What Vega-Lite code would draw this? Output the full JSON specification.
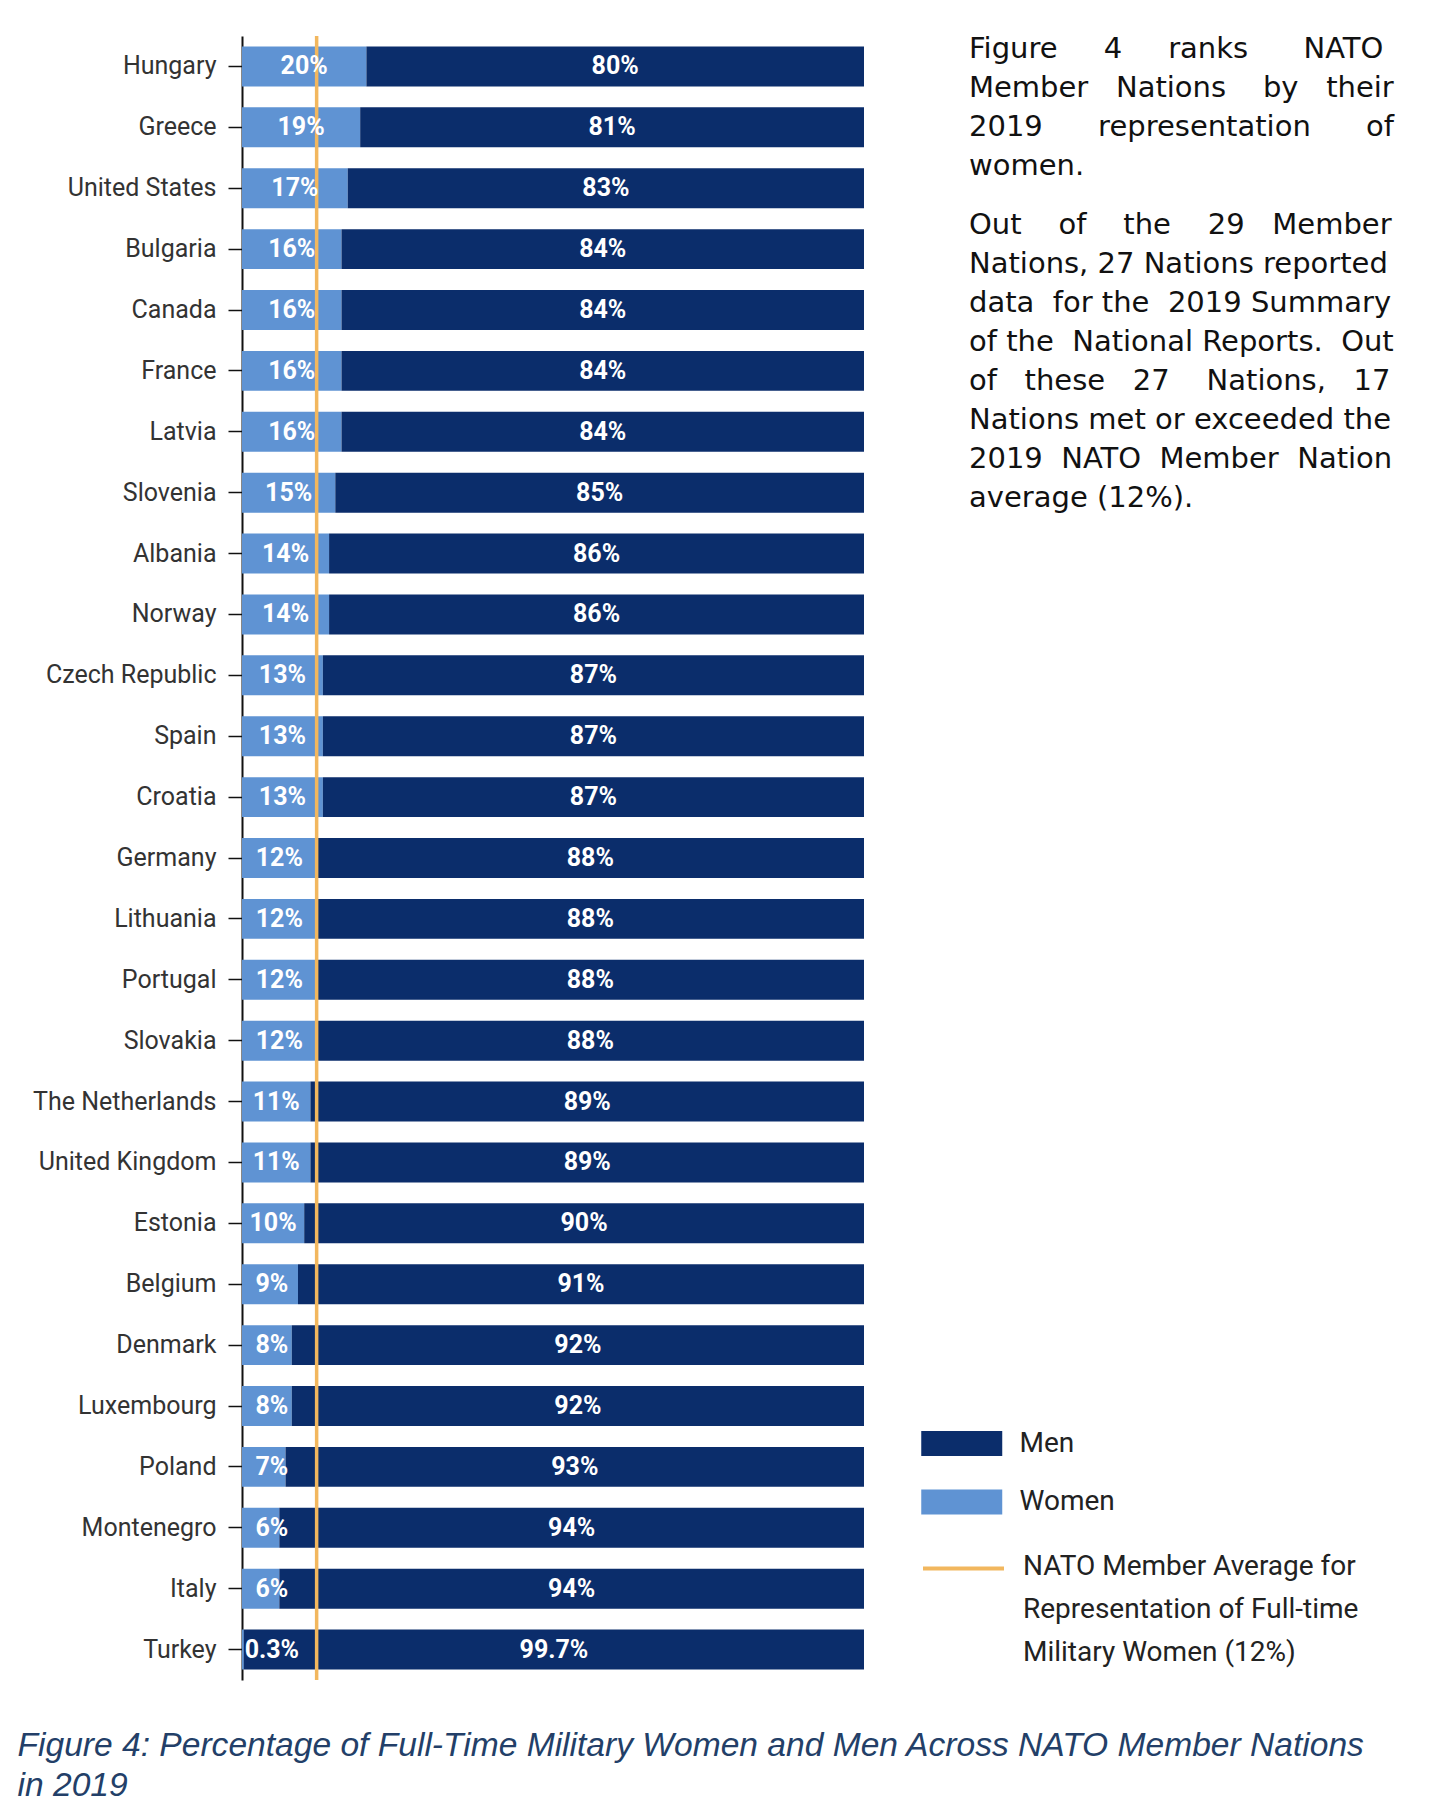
{
  "$schema": "https://vega.github.io/schema/vega-lite/v6.json",
  "width": 622,
  "height": 1644,
  "autosize": {"type": "none"},
  "padding": {"left": 242, "top": 36, "right": 571, "bottom": 132},
  "background": "white",
  "config": {"view": {"stroke": null}, "font": "Roboto"},
  "title": {
    "text": [
      "Figure\u00a0\u00a0\u00a0\u00a0\u00a04\u00a0\u00a0\u00a0\u00a0\u00a0ranks\u00a0\u00a0\u00a0\u00a0\u00a0\u00a0NATO",
      "Member\u00a0\u00a0\u00a0Nations\u00a0\u00a0\u00a0\u00a0by\u00a0\u00a0\u00a0their",
      "2019\u00a0\u00a0\u00a0\u00a0\u00a0\u00a0representation\u00a0\u00a0\u00a0\u00a0\u00a0\u00a0of",
      "women."
    ],
    "subtitle": [
      "Out\u00a0\u00a0\u00a0\u00a0of\u00a0\u00a0\u00a0\u00a0the\u00a0\u00a0\u00a0\u00a029\u00a0\u00a0\u00a0Member",
      "Nations, 27 Nations reported",
      "data\u00a0\u00a0for\u00a0the\u00a0\u00a02019\u00a0Summary",
      "of\u00a0the\u00a0\u00a0National\u00a0Reports.\u00a0\u00a0Out",
      "of\u00a0\u00a0\u00a0these\u00a0\u00a0\u00a027\u00a0\u00a0\u00a0\u00a0Nations,\u00a0\u00a0\u00a017",
      "Nations met or exceeded the",
      "2019\u00a0\u00a0NATO\u00a0\u00a0Member\u00a0\u00a0Nation",
      "average (12%)."
    ],
    "anchor": "start",
    "frame": "group",
    "orient": "top",
    "offset": 0,
    "dx": 727,
    "dy": 479,
    "font": "DejaVu Sans",
    "fontSize": 29,
    "fontWeight": "normal",
    "color": "#111111",
    "lineHeight": 39,
    "subtitleFont": "DejaVu Sans",
    "subtitleFontSize": 29,
    "subtitleColor": "#111111",
    "subtitleLineHeight": 39,
    "subtitlePadding": 30
  },
  "data": {"values": [
    {"country": "Hungary", "gender": "Women", "pct": 20}, {"country": "Hungary", "gender": "Men", "pct": 80},
    {"country": "Greece", "gender": "Women", "pct": 19}, {"country": "Greece", "gender": "Men", "pct": 81},
    {"country": "United States", "gender": "Women", "pct": 17}, {"country": "United States", "gender": "Men", "pct": 83},
    {"country": "Bulgaria", "gender": "Women", "pct": 16}, {"country": "Bulgaria", "gender": "Men", "pct": 84},
    {"country": "Canada", "gender": "Women", "pct": 16}, {"country": "Canada", "gender": "Men", "pct": 84},
    {"country": "France", "gender": "Women", "pct": 16}, {"country": "France", "gender": "Men", "pct": 84},
    {"country": "Latvia", "gender": "Women", "pct": 16}, {"country": "Latvia", "gender": "Men", "pct": 84},
    {"country": "Slovenia", "gender": "Women", "pct": 15}, {"country": "Slovenia", "gender": "Men", "pct": 85},
    {"country": "Albania", "gender": "Women", "pct": 14}, {"country": "Albania", "gender": "Men", "pct": 86},
    {"country": "Norway", "gender": "Women", "pct": 14}, {"country": "Norway", "gender": "Men", "pct": 86},
    {"country": "Czech Republic", "gender": "Women", "pct": 13}, {"country": "Czech Republic", "gender": "Men", "pct": 87},
    {"country": "Spain", "gender": "Women", "pct": 13}, {"country": "Spain", "gender": "Men", "pct": 87},
    {"country": "Croatia", "gender": "Women", "pct": 13}, {"country": "Croatia", "gender": "Men", "pct": 87},
    {"country": "Germany", "gender": "Women", "pct": 12}, {"country": "Germany", "gender": "Men", "pct": 88},
    {"country": "Lithuania", "gender": "Women", "pct": 12}, {"country": "Lithuania", "gender": "Men", "pct": 88},
    {"country": "Portugal", "gender": "Women", "pct": 12}, {"country": "Portugal", "gender": "Men", "pct": 88},
    {"country": "Slovakia", "gender": "Women", "pct": 12}, {"country": "Slovakia", "gender": "Men", "pct": 88},
    {"country": "The Netherlands", "gender": "Women", "pct": 11}, {"country": "The Netherlands", "gender": "Men", "pct": 89},
    {"country": "United Kingdom", "gender": "Women", "pct": 11}, {"country": "United Kingdom", "gender": "Men", "pct": 89},
    {"country": "Estonia", "gender": "Women", "pct": 10}, {"country": "Estonia", "gender": "Men", "pct": 90},
    {"country": "Belgium", "gender": "Women", "pct": 9}, {"country": "Belgium", "gender": "Men", "pct": 91},
    {"country": "Denmark", "gender": "Women", "pct": 8}, {"country": "Denmark", "gender": "Men", "pct": 92},
    {"country": "Luxembourg", "gender": "Women", "pct": 8}, {"country": "Luxembourg", "gender": "Men", "pct": 92},
    {"country": "Poland", "gender": "Women", "pct": 7}, {"country": "Poland", "gender": "Men", "pct": 93},
    {"country": "Montenegro", "gender": "Women", "pct": 6}, {"country": "Montenegro", "gender": "Men", "pct": 94},
    {"country": "Italy", "gender": "Women", "pct": 6}, {"country": "Italy", "gender": "Men", "pct": 94},
    {"country": "Turkey", "gender": "Women", "pct": 0.3}, {"country": "Turkey", "gender": "Men", "pct": 99.7}
  ]},
  "layer": [
    {
      "mark": {"type": "bar"},
      "encoding": {
        "y": {
          "field": "country", "type": "nominal", "sort": null,
          "scale": {"paddingInner": 0.344, "paddingOuter": 0.172},
          "axis": {
            "title": null, "grid": false,
            "domain": true, "domainColor": "#111111", "domainWidth": 2,
            "ticks": true, "tickColor": "#111111", "tickSize": 14, "tickWidth": 1.5,
            "labelFont": "Roboto", "labelFontSize": 25, "labelColor": "#333333", "labelPadding": 12,
            "labelLimit": 400
          }
        },
        "x": {
          "field": "pct", "type": "quantitative", "stack": "zero",
          "scale": {"domain": [0, 100], "nice": false},
          "title": ["Figure 4: Percentage of Full-Time Military Women and Men Across NATO Member Nations", "in 2019"],
          "axis": {
            "orient": "bottom", "domain": false, "ticks": false, "labels": false, "grid": false,
            "titleFont": "Liberation Sans", "titleFontStyle": "italic", "titleFontWeight": "normal",
            "titleFontSize": 33.6, "titleColor": "#233f68", "titleAlign": "left", "titleAnchor": "start",
            "titleX": -225, "titleY": 75, "titleBaseline": "alphabetic", "titleLineHeight": 40,
            "titleLimit": 2000
          }
        },
        "color": {
          "field": "gender", "type": "nominal",
          "scale": {"domain": ["Men", "Women"], "range": ["#0b2d6b", "#5f93d3"]},
          "legend": {
            "orient": "none", "legendX": 679, "legendY": 1387, "title": null,
            "symbolType": "M-1,-0.62H3V0.62H-1Z", "symbolSize": 1640, "symbolStrokeWidth": 0,
            "labelFont": "Roboto", "labelFontSize": 28, "labelColor": "#222222", "labelOffset": 57.5,
            "labelLimit": 500, "rowPadding": 23.5
          }
        },
        "order": {"field": "gender", "sort": "descending"}
      }
    },
    {
      "data": {"values": [{"avg": 12}]},
      "mark": {"type": "rule", "strokeWidth": 3.5},
      "encoding": {
        "x": {"field": "avg", "type": "quantitative", "title": ["Figure 4: Percentage of Full-Time Military Women and Men Across NATO Member Nations", "in 2019"]},
        "stroke": {
          "datum": "NATO Member Average for|Representation of Full-time|Military Women (12%)",
          "scale": {"range": ["#f2b75e"]},
          "legend": {
            "orient": "none", "legendX": 679, "legendY": 1490, "title": null,
            "symbolType": "stroke", "symbolSize": 6561, "symbolStrokeWidth": 4,
            "labelFont": "Roboto", "labelFontSize": 28, "labelColor": "#222222", "labelOffset": 17,
            "labelLimit": 800,
            "labelExpr": "split(datum.label, '|')",
            "labelBaseline": "top",
            "encode": {"labels": {"update": {"lineHeight": {"value": 43}, "dy": {"value": -16}}}}
          }
        }
      }
    },
    {
      "transform": [
        {"calculate": "datum.gender == 'Women' ? max(datum.pct / 2, 4.8) : 100 - datum.pct / 2", "as": "mid"},
        {"calculate": "datum.pct + '%'", "as": "lbl"}
      ],
      "mark": {"type": "text", "color": "white", "font": "Roboto", "fontWeight": "bold", "fontSize": 25, "baseline": "middle"},
      "encoding": {
        "x": {"field": "mid", "type": "quantitative", "title": ["Figure 4: Percentage of Full-Time Military Women and Men Across NATO Member Nations", "in 2019"]},
        "y": {"field": "country", "type": "nominal", "sort": null},
        "text": {"field": "lbl"}
      }
    }
  ]
}
